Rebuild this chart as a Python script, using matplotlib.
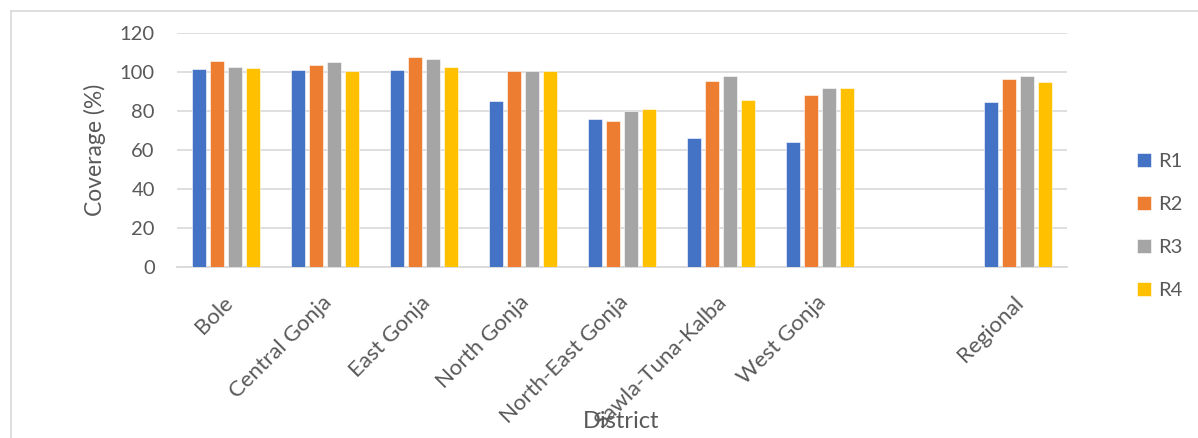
import matplotlib
matplotlib.use("Agg")
import matplotlib.pyplot as plt
import matplotlib.transforms as mtransforms
from matplotlib.lines import Line2D
import numpy as np

plt.rcParams["font.family"] = ["Lato", "DejaVu Sans"]

# data (empty slot before "Regional" kept as in the original)
districts = ["Bole", "Central Gonja", "East Gonja", "North Gonja", "North-East Gonja",
             "Sawla-Tuna-Kalba", "West Gonja", "", "Regional"]
r1 = [101.2, 100.7, 100.7, 85.0, 75.9, 66.2, 64.3, np.nan, 84.8]
r2 = [105.3, 103.6, 107.5, 100.2, 75.0, 95.2, 87.9, np.nan, 96.4]
r3 = [102.2, 105.1, 106.5, 100.2, 79.8, 98.1, 91.5, np.nan, 97.6]
r4 = [102.0, 100.2, 102.2, 100.2, 81.2, 85.8, 91.5, np.nan, 94.7]
series_names = ["R1", "R2", "R3", "R4"]
colors = ["#4472C4", "#ED7D31", "#A5A5A5", "#FFC000"]

text_col = "#595959"
grid_col = "#D9D9D9"
fs = 14.5

W, H = 1198, 438
fig = plt.figure(figsize=(W / 100, H / 100), dpi=100)
ax = fig.add_axes([177 / W, 1 - 267.3 / H, (1067 - 177) / W, (267.3 - 32.7) / H])

x = np.arange(len(districts))
pitch = 0.182
width = 0.142
handles = []
for i, (vals, name, c) in enumerate(zip([r1, r2, r3, r4], series_names, colors)):
    b = ax.bar(x + (i - 1.5) * pitch, vals, width, color=c, label=name,
               edgecolor="white", linewidth=0.4, zorder=3)
    handles.append(b)

ax.set_xlim(-0.5, len(districts) - 0.5)
ax.set_ylim(0, 120)
ax.set_yticks(np.arange(0, 121, 20))
ax.yaxis.grid(True, color=grid_col, linewidth=1.2, zorder=0)
for s in ["top", "right", "left"]:
    ax.spines[s].set_visible(False)
ax.spines["bottom"].set_color(grid_col)
ax.spines["bottom"].set_linewidth(1.3)

ax.tick_params(axis="y", length=0, pad=16, labelsize=fs, labelcolor=text_col)
ax.tick_params(axis="x", length=0, pad=23, labelsize=16, labelcolor=text_col)
ax.set_xticks(x)
ax.set_xticklabels(districts, rotation=45, ha="right", va="center",
                   rotation_mode="anchor")
offset = mtransforms.ScaledTranslation(0.03, 0, fig.dpi_scale_trans)
for lbl in ax.get_xticklabels():
    lbl.set_transform(lbl.get_transform() + offset)

fig.text(95 / W, 1 - 150 / H, "Coverage (%)", rotation=90, ha="center", va="center",
         fontsize=16.5, color=text_col)
fig.text(621 / W, 1 - 421 / H, "District", ha="center", va="center",
         fontsize=17, color=text_col)

fig.legend(handles=handles, labels=series_names, loc="center left",
           bbox_to_anchor=(1137 / W, 1 - 226 / H), frameon=False, fontsize=fs,
           handlelength=0.7, handleheight=0.7, handletextpad=0.35,
           labelspacing=1.3, borderpad=0, borderaxespad=0, labelcolor=text_col)

# outer chart frame (only top and left edges are visible in the crop)
fig.add_artist(Line2D([11 / W, 1], [1 - 11 / H, 1 - 11 / H], transform=fig.transFigure,
                      color=grid_col, linewidth=1.2))
fig.add_artist(Line2D([11 / W, 11 / W], [0, 1 - 11 / H], transform=fig.transFigure,
                      color=grid_col, linewidth=1.2))

fig.savefig("out.png", dpi=100)
